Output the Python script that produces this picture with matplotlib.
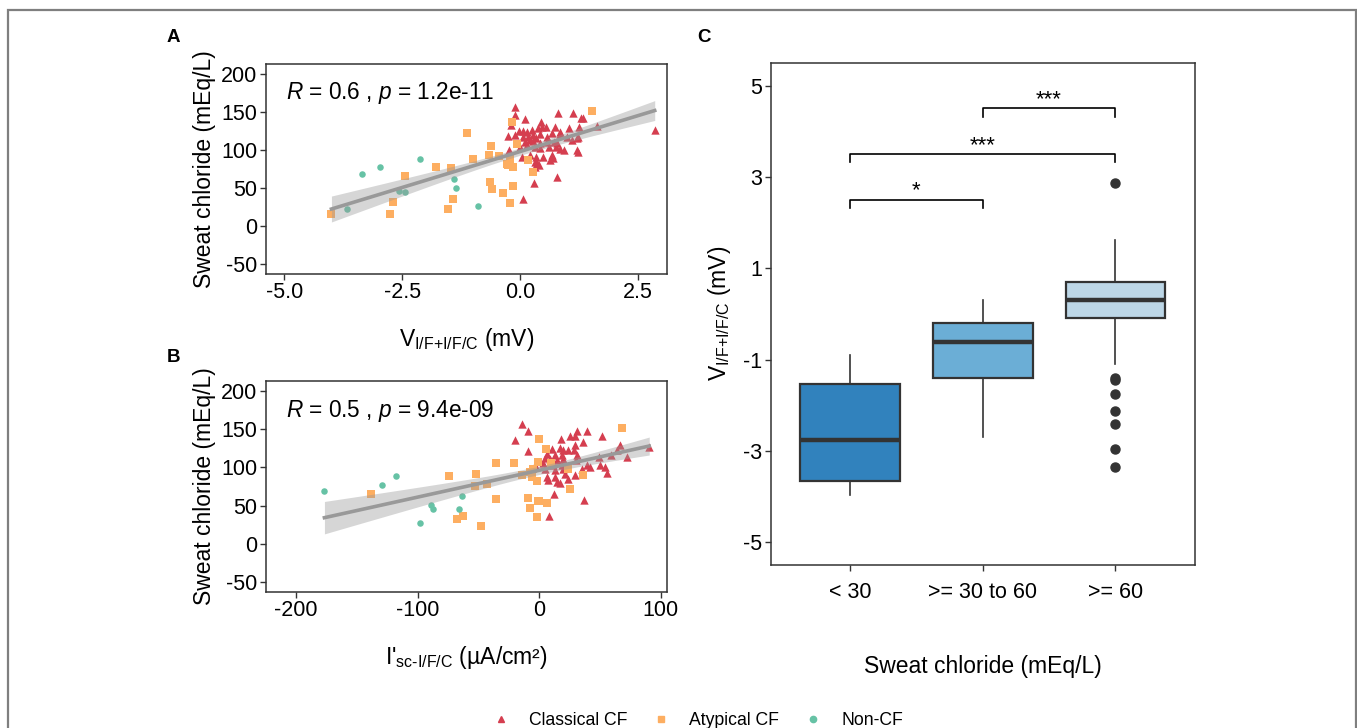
import matplotlib
matplotlib.use("Agg")
import matplotlib.pyplot as plt
from matplotlib.lines import Line2D
from matplotlib.patches import Rectangle
import numpy as np

plt.rcParams['font.family'] = ['Liberation Sans', 'DejaVu Sans']
plt.rcParams['mathtext.fontset'] = 'custom'
plt.rcParams['mathtext.rm'] = 'Liberation Sans'
plt.rcParams['mathtext.it'] = 'Liberation Sans:italic'
plt.rcParams['mathtext.bf'] = 'Liberation Sans:bold'
plt.rcParams['axes.unicode_minus'] = False

# ---- panel A: V (mV) vs sweat chloride ----
a_classical_x = [-0.10, -0.11, 0.11, -0.20, 0.80, 1.13, 1.29, 1.33, 0.45, 1.63, -0.03, 0.07, 0.14, 0.25,
                 0.39, 0.46, 0.55, 0.74, 0.85, 1.05, 1.26, -0.25, -0.11, 0.07, 0.18, 0.28, 0.35, 0.42,
                 0.57, 0.67, 0.86, 1.00, 1.22, 0.10, 0.21, 0.28, 0.42, 0.58, 0.72, 0.79, 1.10, 1.24,
                 -0.23, 0.00, 0.14, 0.32, 0.42, 0.62, 0.76, 0.85, 0.94, 1.22, 1.24, 0.04, 0.21, 0.35,
                 0.49, 0.32, 0.37, 0.69, 0.71, 0.64, 0.40, 0.32, 0.78, 0.30, 0.07, 2.86]
a_classical_y = [156.5, 145.7, 140.5, 132.0, 147.8, 147.8, 141.3, 141.3, 137.0, 131.7, 125.2, 125.2, 123.0,
                 126.1, 128.2, 130.4, 130.4, 129.5, 123.0, 128.2, 129.5, 118.7, 119.6, 117.4, 117.4, 119.6,
                 115.1, 120.9, 116.6, 121.8, 120.9, 117.4, 115.1, 109.9, 113.0, 112.2, 108.6, 110.8, 110.8,
                 108.6, 113.0, 116.6, 100.0, 104.3, 106.5, 104.3, 102.1, 104.3, 103.4, 101.3, 100.0, 100.0,
                 97.8, 91.3, 93.5, 91.3, 90.4, 84.7, 82.5, 93.5, 89.1, 87.0, 80.4, 78.2, 64.2, 56.4, 35.5,
                 126.0]
a_atypical_x = [-4.00, -2.76, -2.70, -2.43, -1.78, -1.46, -1.41, -1.53, -1.12, -0.99, -0.61, -0.66, -0.64,
                -0.59, -0.44, -0.37, -0.25, -0.27, -0.14, -0.14, -0.21, -0.06, -0.16, 0.18, 0.28, 1.53,
                -0.21]
a_atypical_y = [16.1, 16.1, 31.3, 65.2, 77.4, 76.1, 36.1, 23.0, 122.6, 88.7, 105.7, 93.9, 58.6, 49.1, 92.2,
                43.0, 80.4, 81.7, 77.4, 52.2, 30.0, 107.4, 137.0, 86.5, 71.7, 150.4, 88.5]
a_noncf_x = [-3.36, -2.98, -2.12, -3.66, -2.56, -2.43, -1.39, -1.36, -0.90]
a_noncf_y = [68.7, 77.0, 88.3, 22.2, 45.7, 44.3, 62.2, 49.6, 26.5]

# ---- panel B: I'sc vs sweat chloride ----
b_classical_x = [-14.0, -9.0, -19.7, -9.6, 30.7, 38.9, 25.2, 29.3, 35.6, 51.2, 17.6, 29.3, 28.8, 10.2, 17.1,
                 19.8, 23.9, 6.1, 12.9, 18.4, 9.1, 4.6, 14.3, 19.8, 3.3, -3.5, 11.5, 18.4, 30.1, 31.2, 49.3,
                 58.6, 63.5, 66.3, 90.4, 72.3, 34.8, 38.9, 41.7, 49.9, 54.0, 56.0, 4.6, 12.9, 19.8, 21.1,
                 6.1, 12.9, 29.3, 23.9, 7.4, 14.3, 17.1, 12.4, 36.7, 8.2]
b_classical_y = [157.1, 146.8, 136.0, 120.8, 148.0, 148.0, 140.7, 140.7, 132.9, 140.7, 136.4, 128.6, 123.0,
                 123.9, 125.8, 122.3, 122.3, 117.8, 116.5, 115.6, 111.3, 112.2, 109.1, 111.3, 106.1, 102.6,
                 102.6, 103.5, 109.1, 115.6, 113.4, 115.6, 122.3, 129.5, 126.4, 113.4, 98.3, 102.6, 100.4,
                 102.6, 100.4, 93.1, 98.3, 96.1, 98.3, 91.8, 87.4, 87.4, 90.5, 85.3, 83.1, 80.9, 79.5, 65.0,
                 57.1, 36.0]
b_atypical_x = [-138.6, -74.2, -67.9, -62.5, -52.9, -52.3, -48.2, -43.3, -35.6, -35.6, -20.8, -9.6, -7.4,
                -2.2, -0.5, 0.0, 6.6, 5.5, -0.8, -4.9, -7.6, -6.2, -2.1, -14.5, 25.2, 36.2, 67.7, 23.8,
                -0.8, 9.3]
b_atypical_y = [65.4, 88.3, 32.5, 36.8, 76.2, 90.9, 23.8, 78.4, 106.1, 59.3, 106.1, 59.5, 46.4, 34.7, 56.4,
                137.2, 53.8, 123.4, 107.0, 97.8, 93.5, 87.0, 81.8, 89.6, 71.9, 90.5, 151.1, 97.4, 56.4,
                106.1]
b_noncf_x = [-176.7, -129.3, -117.5, -98.1, -88.8, -87.4, -65.8, -63.3]
b_noncf_y = [69.3, 77.5, 88.7, 27.3, 50.6, 45.5, 45.5, 62.8]

# ---- panel C: boxplot summary ----
groups = ['< 30', '>= 30 to 60', '>= 60']
box_lo = [-3.97, -2.70, -1.09]
box_q1 = [-3.66, -1.40, -0.09]
box_med = [-2.77, -0.62, 0.30]
box_q3 = [-1.53, -0.20, 0.70]
box_hi = [-0.91, 0.30, 1.61]
box_out = [[], [], [2.87, -1.40, -1.45, -1.76, -2.12, -2.42, -2.97, -3.35]]
box_colors = ['#3182BD', '#6BAED6', '#BDD7E7']
sig_pairs = [(1, 2), (1, 3), (2, 3)]
sig_y = [2.5, 3.5, 4.5]
sig_labels = ['*', '***', '***']

red, orange, green = '#D53E4F', '#FDAE61', '#66C2A5'
dark = '#333333'

fig = plt.figure(figsize=(13.57, 7.28), dpi=100)
fig.patches.append(Rectangle((8 / 1357, -0.05), 1348 / 1357, 1.05 - 10 / 728, transform=fig.transFigure,
                             fill=False, edgecolor='#7f7f7f', linewidth=1.6))


def style_axes(ax):
    for s in ax.spines.values():
        s.set_color(dark)
        s.set_linewidth(1.1)
    ax.tick_params(direction='out', length=4, width=1, color=dark, labelsize=15.5, labelcolor='black', pad=2)


def scatter_panel(ax, groups_xy, text):
    for (x, y), m, c, s in zip(groups_xy, ['^', 's', 'o'], [red, orange, green], [36, 27, 22]):
        ax.scatter(x, y, marker=m, s=s, color=c, linewidths=0, zorder=2)
    allx = np.concatenate([g[0] for g in groups_xy])
    ally = np.concatenate([g[1] for g in groups_xy])
    b, a = np.polyfit(allx, ally, 1)
    xs = np.linspace(allx.min(), allx.max(), 80)
    fit = a + b * xs
    n = len(allx)
    resid = ally - (a + b * allx)
    sd = np.sqrt(np.sum(resid ** 2) / (n - 2))
    se = sd * np.sqrt(1 / n + (xs - allx.mean()) ** 2 / np.sum((allx - allx.mean()) ** 2))
    ax.fill_between(xs, fit - 1.984 * se, fit + 1.984 * se, color='#999999', alpha=0.4, linewidth=0, zorder=3)
    ax.plot(xs, fit, color='#999999', linewidth=2.6, zorder=4)
    ax.text(0.05, 0.86, text, transform=ax.transAxes, fontsize=16.3, va='center', ha='left')
    ax.set_ylim(-62.5, 212.5)
    ax.set_yticks([-50, 0, 50, 100, 150, 200])
    ax.set_ylabel('Sweat chloride (mEq/L)', fontsize=16.5, labelpad=4)
    style_axes(ax)


# A
axA = fig.add_axes([0.1958, 0.6236, 0.2957, 0.2885])
scatter_panel(axA, [(np.array(a_classical_x), np.array(a_classical_y)),
                    (np.array(a_atypical_x), np.array(a_atypical_y)),
                    (np.array(a_noncf_x), np.array(a_noncf_y))],
              r'$\mathit{R}$ = 0.6 , $\mathit{p}$ = 1.2e-11')
axA.set_xlim(-5.395, 3.12)
axA.set_xticks([-5.0, -2.5, 0.0, 2.5])
axA.set_xticklabels(['-5.0', '-2.5', '0.0', '2.5'])
axA.set_xlabel(r'V$_{\text{I/F+I/F/C}}$ (mV)', fontsize=16.5, labelpad=16)

# B
axB = fig.add_axes([0.1958, 0.1868, 0.2957, 0.2898])
scatter_panel(axB, [(np.array(b_classical_x), np.array(b_classical_y)),
                    (np.array(b_atypical_x), np.array(b_atypical_y)),
                    (np.array(b_noncf_x), np.array(b_noncf_y))],
              r'$\mathit{R}$ = 0.5 , $\mathit{p}$ = 9.4e-09')
axB.set_xlim(-225, 105)
axB.set_xticks([-200, -100, 0, 100])
axB.set_xticklabels(['-200', '-100', '0', '100'])
axB.set_xlabel(r"I'$_{\text{sc-I/F/C}}$ (µA/cm²)", fontsize=16.5, labelpad=16)

# C
axC = fig.add_axes([0.5679, 0.2239, 0.3127, 0.69])
stats = []
for i in range(3):
    stats.append(dict(whislo=box_lo[i], q1=box_q1[i], med=box_med[i], q3=box_q3[i], whishi=box_hi[i],
                      fliers=box_out[i]))
bp = axC.bxp(stats, positions=[1, 2, 3], widths=0.75, patch_artist=True, showcaps=False,
             boxprops=dict(edgecolor=dark, linewidth=1.6),
             medianprops=dict(color=dark, linewidth=3.2),
             whiskerprops=dict(color=dark, linewidth=1.2),
             flierprops=dict(marker='o', markerfacecolor=dark, markeredgecolor=dark, markersize=6.5))
for patch, c in zip(bp['boxes'], box_colors):
    patch.set_facecolor(c)
for (g1, g2), yy, lab in zip(sig_pairs, sig_y, sig_labels):
    axC.plot([g1, g1, g2, g2], [yy - 0.18, yy, yy, yy - 0.18], color='black', linewidth=1.2)
    axC.text((g1 + g2) / 2, yy + 0.07, lab, ha='center', va='baseline', fontsize=16)
axC.set_xlim(0.4, 3.6)
axC.set_ylim(-5.5, 5.5)
axC.set_yticks([-5, -3, -1, 1, 3, 5])
axC.set_xticks([1, 2, 3])
axC.set_xticklabels(groups)
axC.set_xlabel('Sweat chloride (mEq/L)', fontsize=16.5, labelpad=38)
axC.set_ylabel(r'V$_{\text{I/F+I/F/C}}$ (mV)', fontsize=16.5, labelpad=7)
style_axes(axC)
axC.tick_params(axis='x', pad=8)

# panel letters
fig.text(167 / 1357, 1 - 37 / 728, 'A', fontsize=13.5, fontweight='bold', va='center')
fig.text(167 / 1357, 1 - 358 / 728, 'B', fontsize=13.5, fontweight='bold', va='center')
fig.text(697 / 1357, 1 - 38 / 728, 'C', fontsize=13.5, fontweight='bold', va='center')

# legend
handles = [Line2D([], [], marker='^', color=red, linestyle='', markersize=5),
           Line2D([], [], marker='s', color=orange, linestyle='', markersize=4.5),
           Line2D([], [], marker='o', color=green, linestyle='', markersize=4.5)]
fig.legend(handles, ['Classical CF', 'Atypical CF', 'Non-CF'], loc='center', bbox_to_anchor=(0.514, 0.01),
           ncol=3, frameon=False, fontsize=12.7, handletextpad=1.1, columnspacing=1.4, handlelength=1.0)

fig.savefig('out.png', dpi=100)
